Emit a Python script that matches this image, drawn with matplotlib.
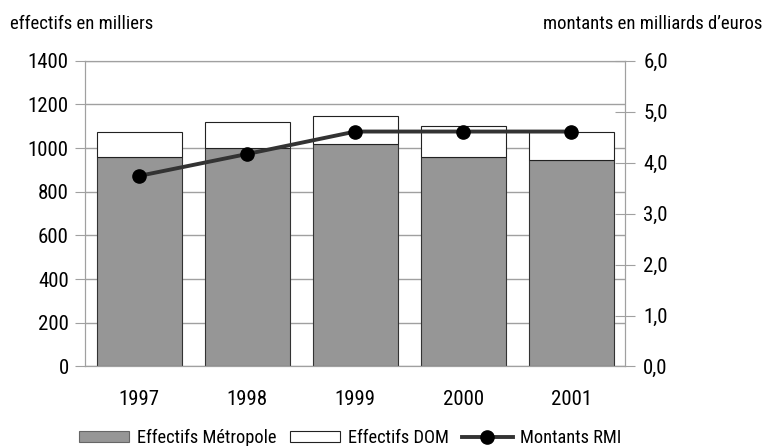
import matplotlib
matplotlib.use("Agg")
import matplotlib.pyplot as plt
from matplotlib.patches import Patch
from matplotlib.lines import Line2D

plt.rcParams["font.family"] = ["Roboto Condensed", "Roboto", "DejaVu Sans"]

years = ["1997", "1998", "1999", "2000", "2001"]
effectifs_metropole = [960, 1000, 1017, 960, 944]
effectifs_dom = [113, 118, 128, 139, 129]
montants_rmi = [3.74, 4.17, 4.61, 4.61, 4.61]

left_ticks = [0, 200, 400, 600, 800, 1000, 1200, 1400]
right_ticks = [0, 1, 2, 3, 4, 5, 6]

grid_grey = "#a0a0a0"
bar_grey = "#969696"

figure = plt.figure(figsize=(7.65, 4.46), dpi=100)
axis = figure.add_axes([0.1115, 0.1783, 0.7059, 0.6856])

positions = range(len(years))
axis.bar(positions, effectifs_metropole, width=0.787, color=bar_grey,
         edgecolor="#333333", linewidth=0.8)
axis.bar(positions, effectifs_dom, width=0.787, bottom=effectifs_metropole,
         color="white", edgecolor="#222222", linewidth=0.8)

axis.set_xlim(-0.5, len(years) - 0.5)
axis.set_ylim(0, 1400)
axis.set_yticks(left_ticks)
axis.set_xticks(list(positions))
axis.set_xticklabels(years)
axis.yaxis.grid(True, color=grid_grey, linewidth=1)
axis.set_axisbelow(True)
axis.tick_params(axis="y", direction="out", length=7, color=grid_grey,
                 labelsize=15, pad=5)
axis.tick_params(axis="x", length=0, labelsize=15, pad=17)
for spine in axis.spines.values():
    spine.set_color(grid_grey)

right_axis = axis.twinx()
right_axis.plot(positions, montants_rmi, color="#333333", linewidth=2.8,
                marker="o", markersize=9.5, markerfacecolor="black",
                markeredgecolor="black")
right_axis.set_ylim(0, 6)
right_axis.set_yticks(right_ticks)
right_axis.set_yticklabels([f"{v:.1f}".replace(".", ",") for v in right_ticks])
right_axis.tick_params(axis="y", direction="inout", length=14, color=grid_grey,
                       labelsize=15, pad=6)
for spine in right_axis.spines.values():
    spine.set_color(grid_grey)

figure.text(10 / 765, 1 - 24 / 446, "effectifs en milliers", fontsize=13.5,
            ha="left", va="center")
figure.text(762 / 765, 1 - 24 / 446, "montants en milliards d\u2019euros",
            fontsize=13.5, ha="right", va="center")

handles = [
    Patch(facecolor=bar_grey, edgecolor="#666666", linewidth=0.8),
    Patch(facecolor="white", edgecolor="#222222", linewidth=0.8),
    Line2D([], [], color="#333333", linewidth=2.8, marker="o",
           markersize=9.5, markerfacecolor="black", markeredgecolor="black"),
]
labels = ["Effectifs M\u00e9tropole", "Effectifs DOM", "Montants RMI"]
figure.legend(handles, labels, loc="center", ncol=3, frameon=False,
              bbox_to_anchor=(350 / 765, 1 - 438 / 446), fontsize=13.2,
              handlelength=2.75, handleheight=0.5, handletextpad=0.4,
              columnspacing=0.75, borderaxespad=0, borderpad=0)

figure.savefig("out.png", dpi=100)
